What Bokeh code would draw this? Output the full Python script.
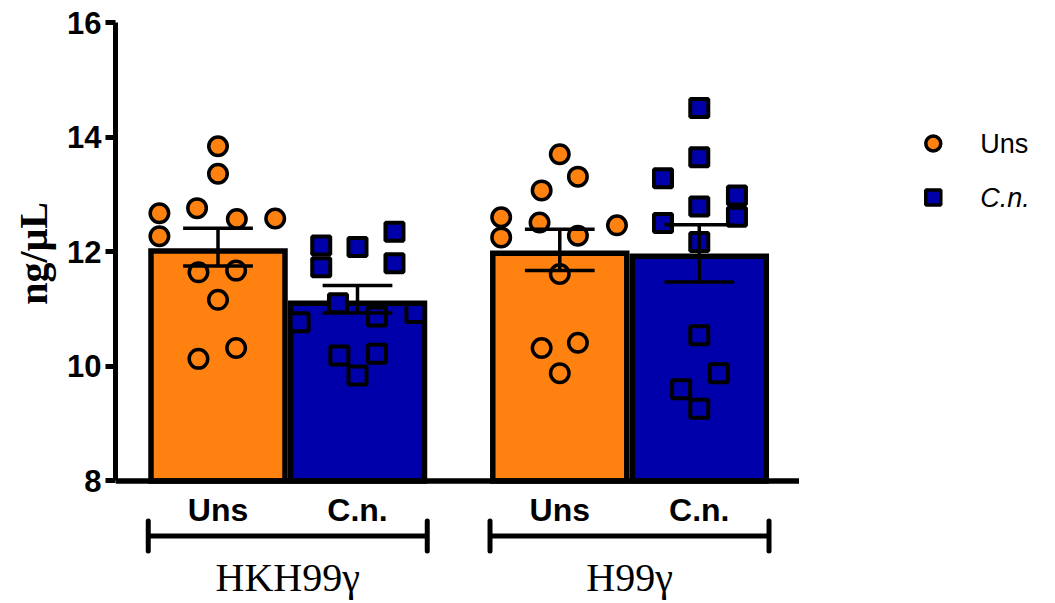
import numpy as np
from bokeh.plotting import figure
from bokeh.models import Range1d, FixedTicker, Title, ColumnDataSource
from bokeh.core.properties import value
from bokeh.embed import file_html
from bokeh.resources import INLINE

# ---------------- data ----------------
groups = ["HKH99γ", "H99γ"]
conditions = ["Uns", "C.n."]
legend_labels = ["Uns", "C.n."]
y_ticks = [8, 10, 12, 14, 16]
y_title = "ng/μL"

# bars in order: HKH99γ-Uns, HKH99γ-C.n., H99γ-Uns, H99γ-C.n.
bar_means = [12.06, 11.15, 12.02, 11.97]
err_upper = [12.41, 11.41, 12.39, 12.47]
err_lower = [11.75, 10.93, 11.67, 11.47]

hkh_uns = [13.84, 13.36, 12.67, 12.76, 12.57, 12.58, 12.27, 11.64, 11.67, 11.16, 10.13, 10.32]
hkh_uns_dx = [0.0, 0.0, -0.42, -0.15, 0.135, 0.41, -0.42, -0.14, 0.13, 0.0, -0.14, 0.13]

hkh_cn = [12.11, 12.08, 12.35, 11.73, 11.80, 11.10, 10.77, 10.87, 10.93, 10.19, 10.22, 9.84]
hkh_cn_dx = [-0.26, 0.0, 0.265, -0.26, 0.265, -0.14, -0.415, 0.14, 0.415, -0.13, 0.14, 0.0]

h99_uns = [13.70, 13.31, 13.07, 12.60, 12.25, 12.51, 12.28, 12.46, 11.61, 10.32, 10.41, 9.88]
h99_uns_dx = [0.0, 0.13, -0.13, -0.42, -0.42, -0.145, 0.13, 0.41, 0.0, -0.13, 0.13, 0.0]

h99_cn = [14.51, 13.65, 13.28, 12.79, 12.98, 12.61, 12.50, 12.17, 10.54, 9.88, 9.60, 9.26]
h99_cn_dx = [0.0, 0.0, -0.26, 0.0, 0.27, 0.27, -0.26, 0.0, 0.0, 0.14, -0.13, 0.0]

points = [hkh_uns, hkh_cn, h99_uns, h99_cn]
points_dx = [hkh_uns_dx, hkh_cn_dx, h99_uns_dx, h99_cn_dx]

# ---------------- style / layout ----------------
ORANGE = "#FF8210"
BLUE = "#0000AA"
colors = [ORANGE, BLUE]
markers = ["circle", "square"]

W, H = 1050, 600
LEFT, TOP = 115, 22
FRAME_W = W - LEFT
FRAME_H = H - TOP
PX_X = 139.5          # pixels per bar width
PX_Y = 57.3           # pixels per y unit
GROUP_STEP = 2.45     # distance between groups, in bar widths

x_start = -102.5 / PX_X
x_end = x_start + FRAME_W / PX_X
y_top = 16.0
y_bottom = y_top - FRAME_H / PX_Y

def dy(px):
    return px / PX_Y

def dx(px):
    return px / PX_X

centers = [g * GROUP_STEP + c for g in range(len(groups)) for c in range(len(conditions))]
bar_colors = [colors[c] for g in range(len(groups)) for c in range(len(conditions))]

p = figure(width=W, height=H, output_backend="svg", toolbar_location=None,
           x_range=Range1d(x_start, x_end), y_range=Range1d(y_bottom, y_top),
           x_axis_location=None, y_axis_location="left",
           min_border_left=LEFT, min_border_right=0, min_border_top=TOP, min_border_bottom=0)
p.outline_line_color = None
p.grid.visible = False
p.background_fill_color = "white"
p.border_fill_color = "white"

# y axis
yax = p.yaxis[0]
yax.bounds = (y_ticks[0], y_ticks[-1])
yax.ticker = FixedTicker(ticks=y_ticks)
yax.axis_line_width = 5
yax.axis_line_color = "black"
yax.major_tick_line_width = 5
yax.major_tick_out = 10
yax.major_tick_in = 0
yax.minor_tick_line_color = None
yax.major_label_standoff = 4
yax.major_label_text_font = "Liberation Sans"
yax.major_label_text_font_style = "bold"
yax.major_label_text_font_size = "31px"
yax.major_label_text_color = "black"

# y-axis title as a left-side title, its start placed so it is centred on the bounded axis
TITLE_LEN_PX = 106
axis_mid_from_bottom = FRAME_H - (y_top - (y_ticks[0] + y_ticks[-1]) / 2) * PX_Y
p.add_layout(Title(text=y_title, align="left",
                   offset=axis_mid_from_bottom - TITLE_LEN_PX / 2,
                   standoff=17, text_font="Liberation Serif", text_font_style="bold",
                   text_font_size="40px", text_color="black"), "left")

# bars (outline drawn inside the bar)
LW_BAR = 5.5
bar_src = ColumnDataSource(dict(
    x=centers,
    top=[m - dy(LW_BAR / 2) for m in bar_means],
    color=bar_colors,
))
p.vbar(x="x", top="top", bottom=y_ticks[0], width=1 - dx(LW_BAR), source=bar_src,
       fill_color="color", line_color="black", line_width=LW_BAR, line_join="miter")

# x axis line
p.segment(x0=[x_start], y0=[y_ticks[0]], x1=[centers[-1] + 0.5 + dx(30)], y1=[y_ticks[0]],
          line_color="black", line_width=5.5)

# points
for i, (vals, offs) in enumerate(zip(points, points_dx)):
    c = i % len(conditions)
    xs = [centers[i] + o for o in offs]
    p.scatter(x=xs, y=vals, marker=markers[c], size=18.5 if c == 0 else 18,
              fill_color=colors[c], line_color="black", line_width=3.5 if c == 0 else 4)

# error bars
CAP = 0.25
p.segment(x0=centers, y0=err_lower, x1=centers, y1=err_upper, line_color="black", line_width=3.5)
p.segment(x0=[c - CAP for c in centers], y0=err_upper, x1=[c + CAP for c in centers], y1=err_upper,
          line_color="black", line_width=3.5)
p.segment(x0=[c - CAP for c in centers], y0=err_lower, x1=[c + CAP for c in centers], y1=err_lower,
          line_color="black", line_width=3.5)

# category labels
cat_labels = [conditions[c] for g in range(len(groups)) for c in range(len(conditions))]
p.text(x=centers, y=[y_ticks[0] - dy(29.5)] * len(centers), text=cat_labels,
       text_font=value("Liberation Sans"), text_font_style="bold", text_font_size="32px",
       text_align="center", text_baseline="middle", text_color="black")

# group brackets and labels
g_left = [g * GROUP_STEP - 0.5 for g in range(len(groups))]
g_right = [g * GROUP_STEP + len(conditions) - 0.5 for g in range(len(groups))]
g_mid = [(a + b) / 2 for a, b in zip(g_left, g_right)]
br_y = y_ticks[0] - dy(55)
cap_h = dy(15)
p.segment(x0=g_left, y0=[br_y] * 2, x1=g_right, y1=[br_y] * 2, line_color="black", line_width=5)
p.segment(x0=g_left + g_right, y0=[br_y - cap_h] * 4, x1=g_left + g_right, y1=[br_y + cap_h] * 4,
          line_color="black", line_width=5, line_cap="round")
p.text(x=g_mid, y=[y_ticks[0] - dy(97)] * 2, text=groups,
       text_font=value("Liberation Serif"), text_font_size="40px",
       text_align="center", text_baseline="middle", text_color="black")

# legend (manual)
leg_x = centers[-1] + dx(234)
leg_y = [y_top - dy(121), y_top - dy(175)]
p.scatter(x=[leg_x], y=[leg_y[0]], marker="circle", size=15, fill_color=ORANGE,
          line_color="black", line_width=3.5)
p.scatter(x=[leg_x], y=[leg_y[1]], marker="square", size=15, fill_color=BLUE,
          line_color="black", line_width=3.5)
p.text(x=[leg_x + dx(47)], y=[leg_y[0]], text=[legend_labels[0]],
       text_font=value("Liberation Sans"), text_font_size="27px",
       text_align="left", text_baseline="middle", text_color="black")
p.text(x=[leg_x + dx(47)], y=[leg_y[1]], text=[legend_labels[1]],
       text_font=value("Liberation Sans"), text_font_style="italic", text_font_size="27px",
       text_align="left", text_baseline="middle", text_color="black")

open("out.html", "w").write(file_html(p, INLINE))
